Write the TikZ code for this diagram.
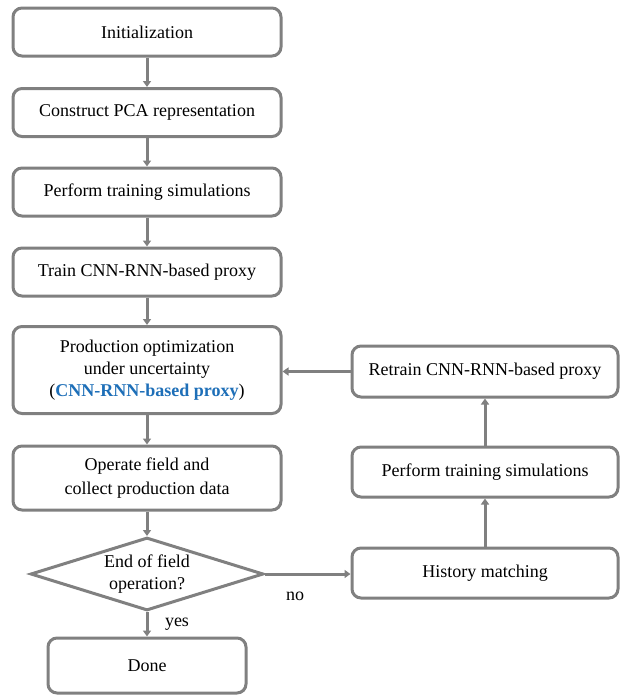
\documentclass[tikz,border=0pt]{standalone}
\usepackage{fontspec}
\setmainfont{Liberation Serif}
\usepackage{tikz}
\usetikzlibrary{shapes.geometric, arrows.meta}
\definecolor{linegray}{RGB}{128,128,128}
\definecolor{proxyblue}{RGB}{30,111,184}
\tikzset{
  stepbox/.style={draw=linegray, line width=3pt, rounded corners=9pt, fill=white,
    minimum width=268pt, minimum height=48pt, align=center, inner sep=2pt,
    font=\fontsize{18}{22}\selectfont},
  decision/.style={draw=linegray, line width=3pt, diamond, aspect=3.2, fill=white,
    align=center, inner sep=0pt, minimum width=233pt, minimum height=73pt,
    font=\fontsize{18}{22}\selectfont},
  flow/.style={draw=linegray, line width=3pt, -{Triangle[width=8pt,length=6pt]}},
  tag/.style={font=\fontsize{18}{22}\selectfont}
}
\begin{document}
\begin{tikzpicture}[x=1pt, y=-1pt]
\useasboundingbox (0,0) rectangle (622,696);
% left column
\node[stepbox] (init) at (147,32) {Initialization};
\node[stepbox] (pca) at (147,112.5) {Construct PCA representation};
\node[stepbox] (sims) at (147,192) {Perform training simulations};
\node[stepbox] (train) at (147,272) {Train CNN-RNN-based proxy};
\node[stepbox, minimum height=87pt] (opt) at (147,370) {Production optimization\\under uncertainty\\(\textcolor{proxyblue}{\textbf{CNN-RNN-based proxy}})};
\node[stepbox, minimum height=64pt, font=\fontsize{18}{24}\selectfont] (field) at (147,478) {Operate field and\\collect production data};
\node[decision] (end) at (147,574) {End of field\\operation?};
\node[stepbox, minimum width=198pt, minimum height=55pt] (done) at (147,665.5) {Done};
% right column
\node[stepbox, minimum width=266pt, minimum height=51pt] (retrain) at (485,371.5) {Retrain CNN-RNN-based proxy};
\node[stepbox, minimum width=266pt, minimum height=50pt] (resims) at (485,472) {Perform training simulations};
\node[stepbox, minimum width=266pt, minimum height=50pt] (hm) at (485,573) {History matching};
% connectors
\draw[flow] (init) -- (pca);
\draw[flow] (pca) -- (sims);
\draw[flow] (sims) -- (train);
\draw[flow] (train) -- (opt);
\draw[flow] (opt) -- (field);
\draw[flow] (field) -- (end);
\draw[flow] (end) -- (done);
\draw[flow] (end.east) -- (hm.west |- end.east);
\draw[flow] (hm) -- (resims);
\draw[flow] (resims) -- (retrain);
\draw[flow] (retrain) -- (retrain -| opt.east);
\node[tag] (no) at (295,596) {no};
\node[tag] (yes) at (177,624) {yes};
\end{tikzpicture}
\end{document}
